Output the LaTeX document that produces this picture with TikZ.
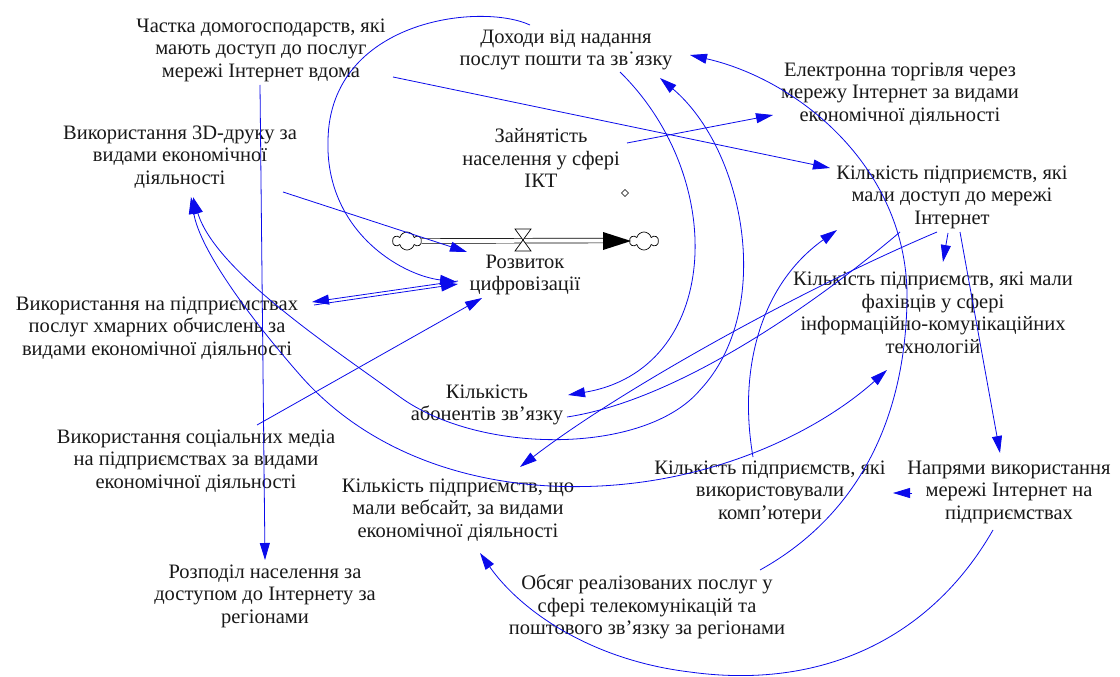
\documentclass[tikz,border=0pt]{standalone}
\usepackage{fontspec}
\setmainfont{Liberation Serif}
\usetikzlibrary{arrows.meta,shapes.symbols,shapes.geometric}
\definecolor{ln}{RGB}{10,10,235}
\definecolor{txt}{RGB}{25,25,25}
\begin{document}
\begin{tikzpicture}[x=1pt,y=-1pt,
  var/.style={align=center,text=txt,font=\fontsize{20.5}{22.5}\selectfont,inner sep=0pt},
  lnk/.style={draw=ln,line width=0.8pt,-{Triangle[length=17pt,width=10pt]}},
  lnkb/.style={draw=ln,line width=0.8pt,{Triangle[length=17pt,width=10pt]}-{Triangle[length=17pt,width=10pt]}},
  plainln/.style={draw=ln,line width=0.8pt},
  cloudy/.style={cloud,cloud puffs=6,draw=black,fill=white,line width=0.7pt,minimum width=28pt,minimum height=18pt,inner sep=0pt}]
\useasboundingbox[fill=white] (0,0) rectangle (1120,677);

% variables
\node[var] (chastka) at (261,50) {Частка домогосподарств, які\\мають доступ до послуг\\мережі Інтернет вдома};
\node[var] (dokhody) at (566,50) {Доходи від надання\\послут пошти та зв˙язку};
\node[var] (etorg) at (900,94) {Електронна торгівля через\\мережу Інтернет за видами\\економічної діяльності};
\node[var] (druk) at (180,157) {Використання 3D-друку за\\видами економічної\\діяльності};
\node[var] (zain) at (541,158) {Зайнятість\\населення у сфері\\ІКТ};
\node[var] (dostup) at (952,197) {Кількість підприємств, які\\мали доступ до мережі\\Інтернет};
\node[var] (rozv) at (525,275) {Розвиток\\цифровізації};
\node[var] (khmar) at (157,328) {Використання на підприємствах\\послуг хмарних обчислень за\\видами економічної діяльності};
\node[var] (fakh) at (933,313) {Кількість підприємств, які мали\\фахівців у сфері\\інформаційно-комунікаційних\\технологій};
\node[var] (abon) at (487,405) {Кількість\\абонентів зв'язку};
\node[var] (socmed) at (196,461) {Використання соціальних медіа\\на підприємствах за видами\\економічної діяльності};
\node[var] (veb) at (458,510) {Кількість підприємств, що\\мали вебсайт, за видами\\економічної діяльності};
\node[var] (komp) at (770,492) {Кількість підприємств, які\\використовували\\комп'ютери};
\node[var] (napr) at (1009,492) {Напрями використання\\мережі Інтернет на\\підприємствах};
\node[var] (rozpod) at (265,596) {Розподіл населення за\\доступом до Інтернету за\\регіонами};
\node[var] (obsyag) at (647,607) {Обсяг реалізованих послуг у\\сфері телекомунікацій та\\поштового зв'язку за регіонами};

% flow
\node[cloudy] (cl1) at (407,241) {};
\node[cloudy] (cl2) at (644,241) {};
\draw[black,line width=0.7pt,double=white,double distance=4pt] (cl1.east) -- (606,240.5);
\fill[black] (603,232) -- (631,241) -- (603,250) -- cycle;
\draw[black,line width=0.7pt,fill=white] (515,229) -- (531,229) -- (515,251) -- (531,251) -- cycle;
\draw[black,line width=0.6pt,fill=white] (625,189.5) -- (628.5,193) -- (625,196.5) -- (621.5,193) -- cycle;

% connectors
\draw[lnk] ([shift={(-1,35)}]chastka.center) -- ([shift={(0,-36)}]rozpod.center);
\draw[lnk] ([shift={(132,27)}]chastka.center) -- ([shift={(-122,-29)}]dostup.center);
\draw[lnk] ([shift={(-36,-25)}]dokhody.center) .. controls (480,2) and (330,20) .. (328,140)
   .. controls (325,230) and (400,275) .. ([shift={(-68,7)}]rozv.center);
\draw[lnk] ([shift={(103,35)}]druk.center) -- ([shift={(-58,-23)}]rozv.center);
\draw[lnk] ([shift={(-67,6)}]rozv.center) -- ([shift={(155,-26)}]khmar.center);
\draw[lnk] ([shift={(157,-23)}]khmar.center) -- ([shift={(-67,9)}]rozv.center);
\draw[lnk] ([shift={(61,-36)}]socmed.center) -- ([shift={(-43,23)}]rozv.center);
\draw[lnkb] ([shift={(94,28)}]dokhody.center) .. controls (745,150) and (775,310) .. (700,390)
   .. controls (645,455) and (480,455) .. (400,397)
   .. controls (328,345) and (215,270) .. ([shift={(13,40)}]druk.center);
\draw[lnkb] ([shift={(-46,57)}]fakh.center) .. controls (820,430) and (720,480) .. (600,486)
   .. controls (480,492) and (370,455) .. (300,375)
   .. controls (250,318) and (200,250) .. ([shift={(11,40)}]druk.center);
\draw[lnk] ([shift={(113,-37)}]obsyag.center) .. controls (850,520) and (905,430) .. (907,300)
   .. controls (909,170) and (800,80) .. ([shift={(124,5)}]dokhody.center);
\draw[lnk] ([shift={(54,22)}]dokhody.center) .. controls (730,180) and (720,370) .. ([shift={(81,-10)}]abon.center);
\draw[lnk] ([shift={(86,-15)}]zain.center) -- ([shift={(-127,21)}]etorg.center);
\draw[lnk] ([shift={(-17,-35)}]komp.center) .. controls (738,370) and (760,285) .. ([shift={(-115,33)}]dostup.center);
\draw[lnk] ([shift={(-4,36)}]dostup.center) -- ([shift={(10,-51)}]fakh.center);
\draw[lnk] ([shift={(8,35)}]dostup.center) -- ([shift={(-9,-39)}]napr.center);
\draw[lnk] ([shift={(-15,35)}]dostup.center) .. controls (800,290) and (620,390) .. ([shift={(62,-43)}]veb.center);
\draw[plainln] ([shift={(80,12)}]abon.center) .. controls (680,400) and (820,300) .. ([shift={(-52,35)}]dostup.center);
\draw[lnk] ([shift={(-97,1)}]napr.center) -- ([shift={(123,1)}]komp.center);
\draw[lnk] ([shift={(-16,38)}]napr.center) .. controls (930,640) and (820,690) .. (690,672)
   .. controls (590,660) and (520,610) .. ([shift={(22,43)}]veb.center);
\end{tikzpicture}
\end{document}
